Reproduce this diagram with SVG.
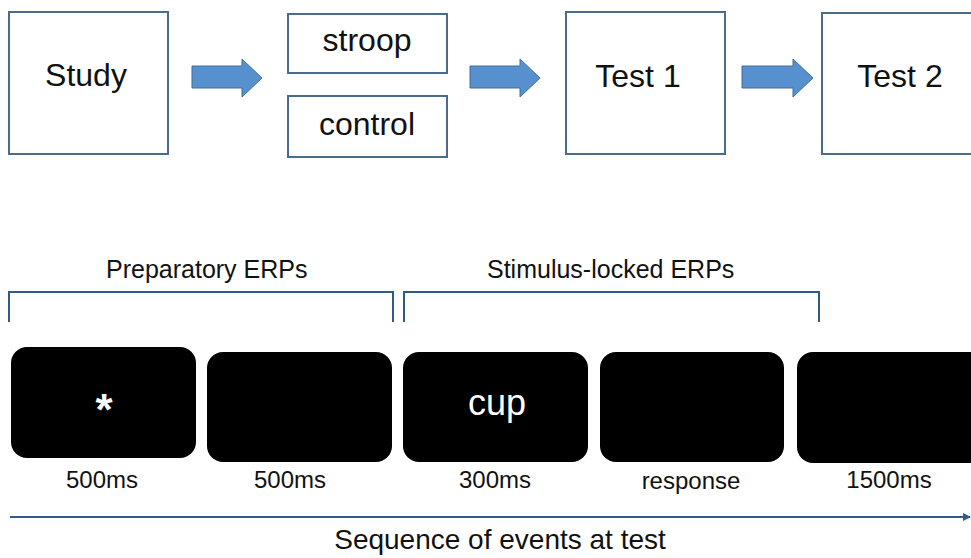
<svg xmlns="http://www.w3.org/2000/svg" width="971" height="558" viewBox="0 0 971 558">
<style>
  .box { fill: #ffffff; stroke: #4a6a8e; stroke-width: 2; }
  .arrow { fill: #5690cf; stroke: #41719c; stroke-width: 1; }
  .t { font-family: "Liberation Sans", Arial, sans-serif; fill: #111111; }
  .big { font-size: 32px; text-anchor: middle; }
  .hdr { font-size: 25px; }
  .lbl { font-size: 24px; text-anchor: middle; }
  .screen { fill: #000000; }
  .brk { fill: none; stroke: #2f5a8a; stroke-width: 2; }
</style>
<defs>
  <marker id="tip" markerWidth="8" markerHeight="8" refX="7" refY="4" orient="auto" markerUnits="userSpaceOnUse">
    <path d="M0,0 L8,4 L0,8 Z" fill="#2f5a8a"/>
  </marker>
</defs>
<rect width="971" height="558" fill="#ffffff"/>

<g id="study"><rect class="box" x="9" y="12" width="159" height="142"/><text class="t big" x="86" y="86">Study</text></g>
<g id="stroop"><rect class="box" x="288" y="14" width="159" height="59"/><text class="t big" x="367" y="51">stroop</text></g>
<g id="control"><rect class="box" x="288" y="96" width="159" height="61"/><text class="t big" x="367" y="135">control</text></g>
<g id="test1"><rect class="box" x="566" y="12" width="159" height="142"/><text class="t big" x="638" y="87">Test 1</text></g>
<g id="test2"><rect class="box" x="822" y="13" width="170" height="141"/><text class="t big" x="900" y="87">Test 2</text></g>

<g id="connectors">
  <path class="arrow" d="M192,66 H242 V59 L262,78 L242,97 V88 H192 Z"/>
  <path class="arrow" d="M470,66 H520 V59 L540,78 L520,97 V88 H470 Z"/>
  <path class="arrow" d="M742,66 H793 V59 L813,78 L793,97 V88 H742 Z"/>
  <line x1="10" y1="517" x2="970" y2="517" stroke="#2f5a8a" stroke-width="2" marker-end="url(#tip)"/>
</g>

<g id="preparatory">
  <text class="t hdr" x="106" y="278">Preparatory ERPs</text>
  <path class="brk" d="M9,322 V292 H393 V322"/>
</g>
<g id="stimulus-locked">
  <text class="t hdr" x="487" y="278">Stimulus-locked ERPs</text>
  <path class="brk" d="M404,322 V292 H819 V322"/>
</g>

<g id="screen1"><rect class="screen" x="11" y="347" width="185" height="111" rx="16"/><text class="t" x="104" y="425" font-size="44" font-weight="bold" text-anchor="middle" style="fill:#ffffff">*</text><text class="t lbl" x="102" y="488">500ms</text></g>
<g id="screen2"><rect class="screen" x="207" y="352" width="185" height="110" rx="16"/><text class="t lbl" x="290" y="488">500ms</text></g>
<g id="screen3"><rect class="screen" x="403" y="352" width="185" height="110" rx="16"/><text class="t" x="497" y="415" font-size="36" text-anchor="middle" style="fill:#ffffff">cup</text><text class="t lbl" x="495" y="488">300ms</text></g>
<g id="screen4"><rect class="screen" x="600" y="352" width="184" height="110" rx="16"/><text class="t lbl" x="691" y="489">response</text></g>
<g id="screen5"><rect class="screen" x="797" y="352" width="190" height="111" rx="16"/><text class="t lbl" x="889" y="488">1500ms</text></g>

<text class="t" x="500" y="549" font-size="28" text-anchor="middle">Sequence of events at test</text>
</svg>
